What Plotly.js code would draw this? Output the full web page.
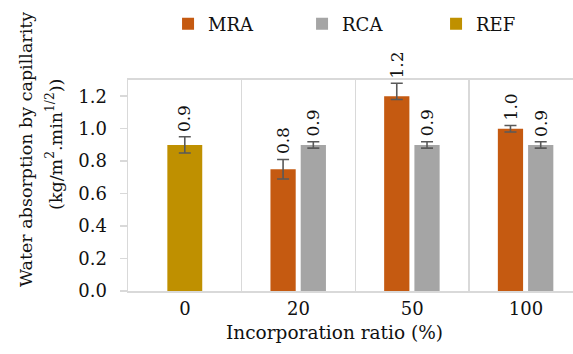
<!DOCTYPE html>
<html>
<head>
<meta charset="utf-8">
<script src="https://cdn.plot.ly/plotly-3.0.1.min.js"></script>
<style>
  html, body { margin: 0; padding: 0; background: #fff; overflow: hidden; }
  #chart { width: 573px; height: 354px; }
</style>
</head>
<body>
<div id="chart"></div>
<script>
// Incorporation ratios (%)
const categories = ['0', '20', '50', '100'];

// Water absorption by capillarity, kg/(m2.min^1/2)
const mraValues = [null, 0.75, 1.2, 1.0];
const rcaValues = [null, 0.9, 0.9, 0.9];
const refValues = [0.9, null, null, null];

// Error bar half-ranges (upper / lower)
const mraErrPlus  = [0, 0.06, 0.08, 0.02];
const mraErrMinus = [0, 0.06, 0.02, 0.02];
const rcaErr = [0, 0.02, 0.02, 0.02];
const refErr = [0.05, 0, 0, 0];

const colors = { MRA: '#C55A11', RCA: '#A5A5A5', REF: '#BF9000' };

const FONT = 'DejaVu Serif, Liberation Serif, serif';
const TXT = '#111111';

// bar geometry within each category slot
const geo = {
  MRA: { offset: -0.247, width: 0.222 },
  RCA: { offset: 0.019, width: 0.222 },
  REF: { offset: -0.154, width: 0.307 }
};

function errStyle(plus, minus) {
  return {
    type: 'data', symmetric: false, array: plus, arrayminus: minus,
    color: '#595959', thickness: 1.6, width: 6
  };
}

const traces = [
  { name: 'MRA', type: 'bar', x: categories, y: mraValues,
    offset: geo.MRA.offset, width: geo.MRA.width,
    marker: { color: colors.MRA }, error_y: errStyle(mraErrPlus, mraErrMinus) },
  { name: 'RCA', type: 'bar', x: categories, y: rcaValues,
    offset: geo.RCA.offset, width: geo.RCA.width,
    marker: { color: colors.RCA }, error_y: errStyle(rcaErr, rcaErr) },
  { name: 'REF', type: 'bar', x: categories, y: refValues,
    offset: geo.REF.offset, width: geo.REF.width,
    marker: { color: colors.REF }, error_y: errStyle(refErr, refErr) }
];

// rotated value labels sitting just above each error bar
const annotations = [];
function addLabels(key, vals, errTop) {
  vals.forEach((v, i) => {
    if (v === null) return;
    annotations.push({
      x: i + geo[key].offset + geo[key].width / 2, y: v + errTop[i],
      xref: 'x', yref: 'y', text: v.toFixed(1), showarrow: false,
      textangle: -90, xanchor: 'center', yanchor: 'bottom', yshift: 3,
      font: { family: FONT, size: 17, color: TXT }
    });
  });
}
addLabels('MRA', mraValues, mraErrPlus);
addLabels('RCA', rcaValues, rcaErr);
addLabels('REF', refValues, refErr);

// axis titles
const titleFont = { family: FONT, size: 17.5, color: TXT };
annotations.push({
  xref: 'paper', yref: 'paper', x: -0.229, y: 0.669,
  text: 'Water absorption by capillarity',
  textangle: -90, showarrow: false, xanchor: 'center', yanchor: 'middle',
  font: titleFont
});
annotations.push({
  xref: 'paper', yref: 'paper', x: -0.166, y: 0.693,
  text: '(kg/m<sup>2</sup>.min<sup>1/2</sup>))',
  textangle: -90, showarrow: false, xanchor: 'center', yanchor: 'middle',
  font: titleFont
});
annotations.push({
  xref: 'paper', yref: 'paper', x: 0.463, y: -0.196,
  text: 'Incorporation ratio (%)',
  showarrow: false, xanchor: 'center', yanchor: 'middle',
  font: { family: FONT, size: 18.5, color: TXT }
});

const layout = {
  width: 573, height: 354,
  margin: { l: 128, r: 0, t: 80, b: 62.5 },
  paper_bgcolor: '#fff', plot_bgcolor: '#fff',
  barmode: 'overlay',
  showlegend: true,
  legend: {
    orientation: 'h', x: 0.09, xanchor: 'left', y: 1.265, yanchor: 'middle',
    entrywidth: 89, entrywidthmode: 'pixels',
    font: { family: FONT, size: 18, color: TXT }, traceorder: 'normal'
  },
  xaxis: {
    type: 'category', range: [-0.5, 3.414], tickson: 'boundaries',
    showgrid: true, gridcolor: '#d9d9d9', gridwidth: 1.5,
    showline: true, linecolor: '#d9d9d9', linewidth: 2, mirror: true,
    ticks: '', tickfont: { family: FONT, size: 18, color: TXT },
    zeroline: false
  },
  yaxis: {
    range: [0, 1.3], tickvals: [0, 0.2, 0.4, 0.6, 0.8, 1.0, 1.2], tickformat: '.1f',
    showgrid: false, zeroline: false,
    showline: true, linecolor: '#d9d9d9', linewidth: 1.5,
    ticks: 'outside', ticklen: 7, tickcolor: '#d9d9d9', tickwidth: 1.5,
    ticklabelstandoff: 9,
    tickfont: { family: FONT, size: 18, color: TXT }
  },
  annotations: annotations
};

Plotly.newPlot('chart', traces, layout, { displayModeBar: false, staticPlot: true });
</script>
</body>
</html>
